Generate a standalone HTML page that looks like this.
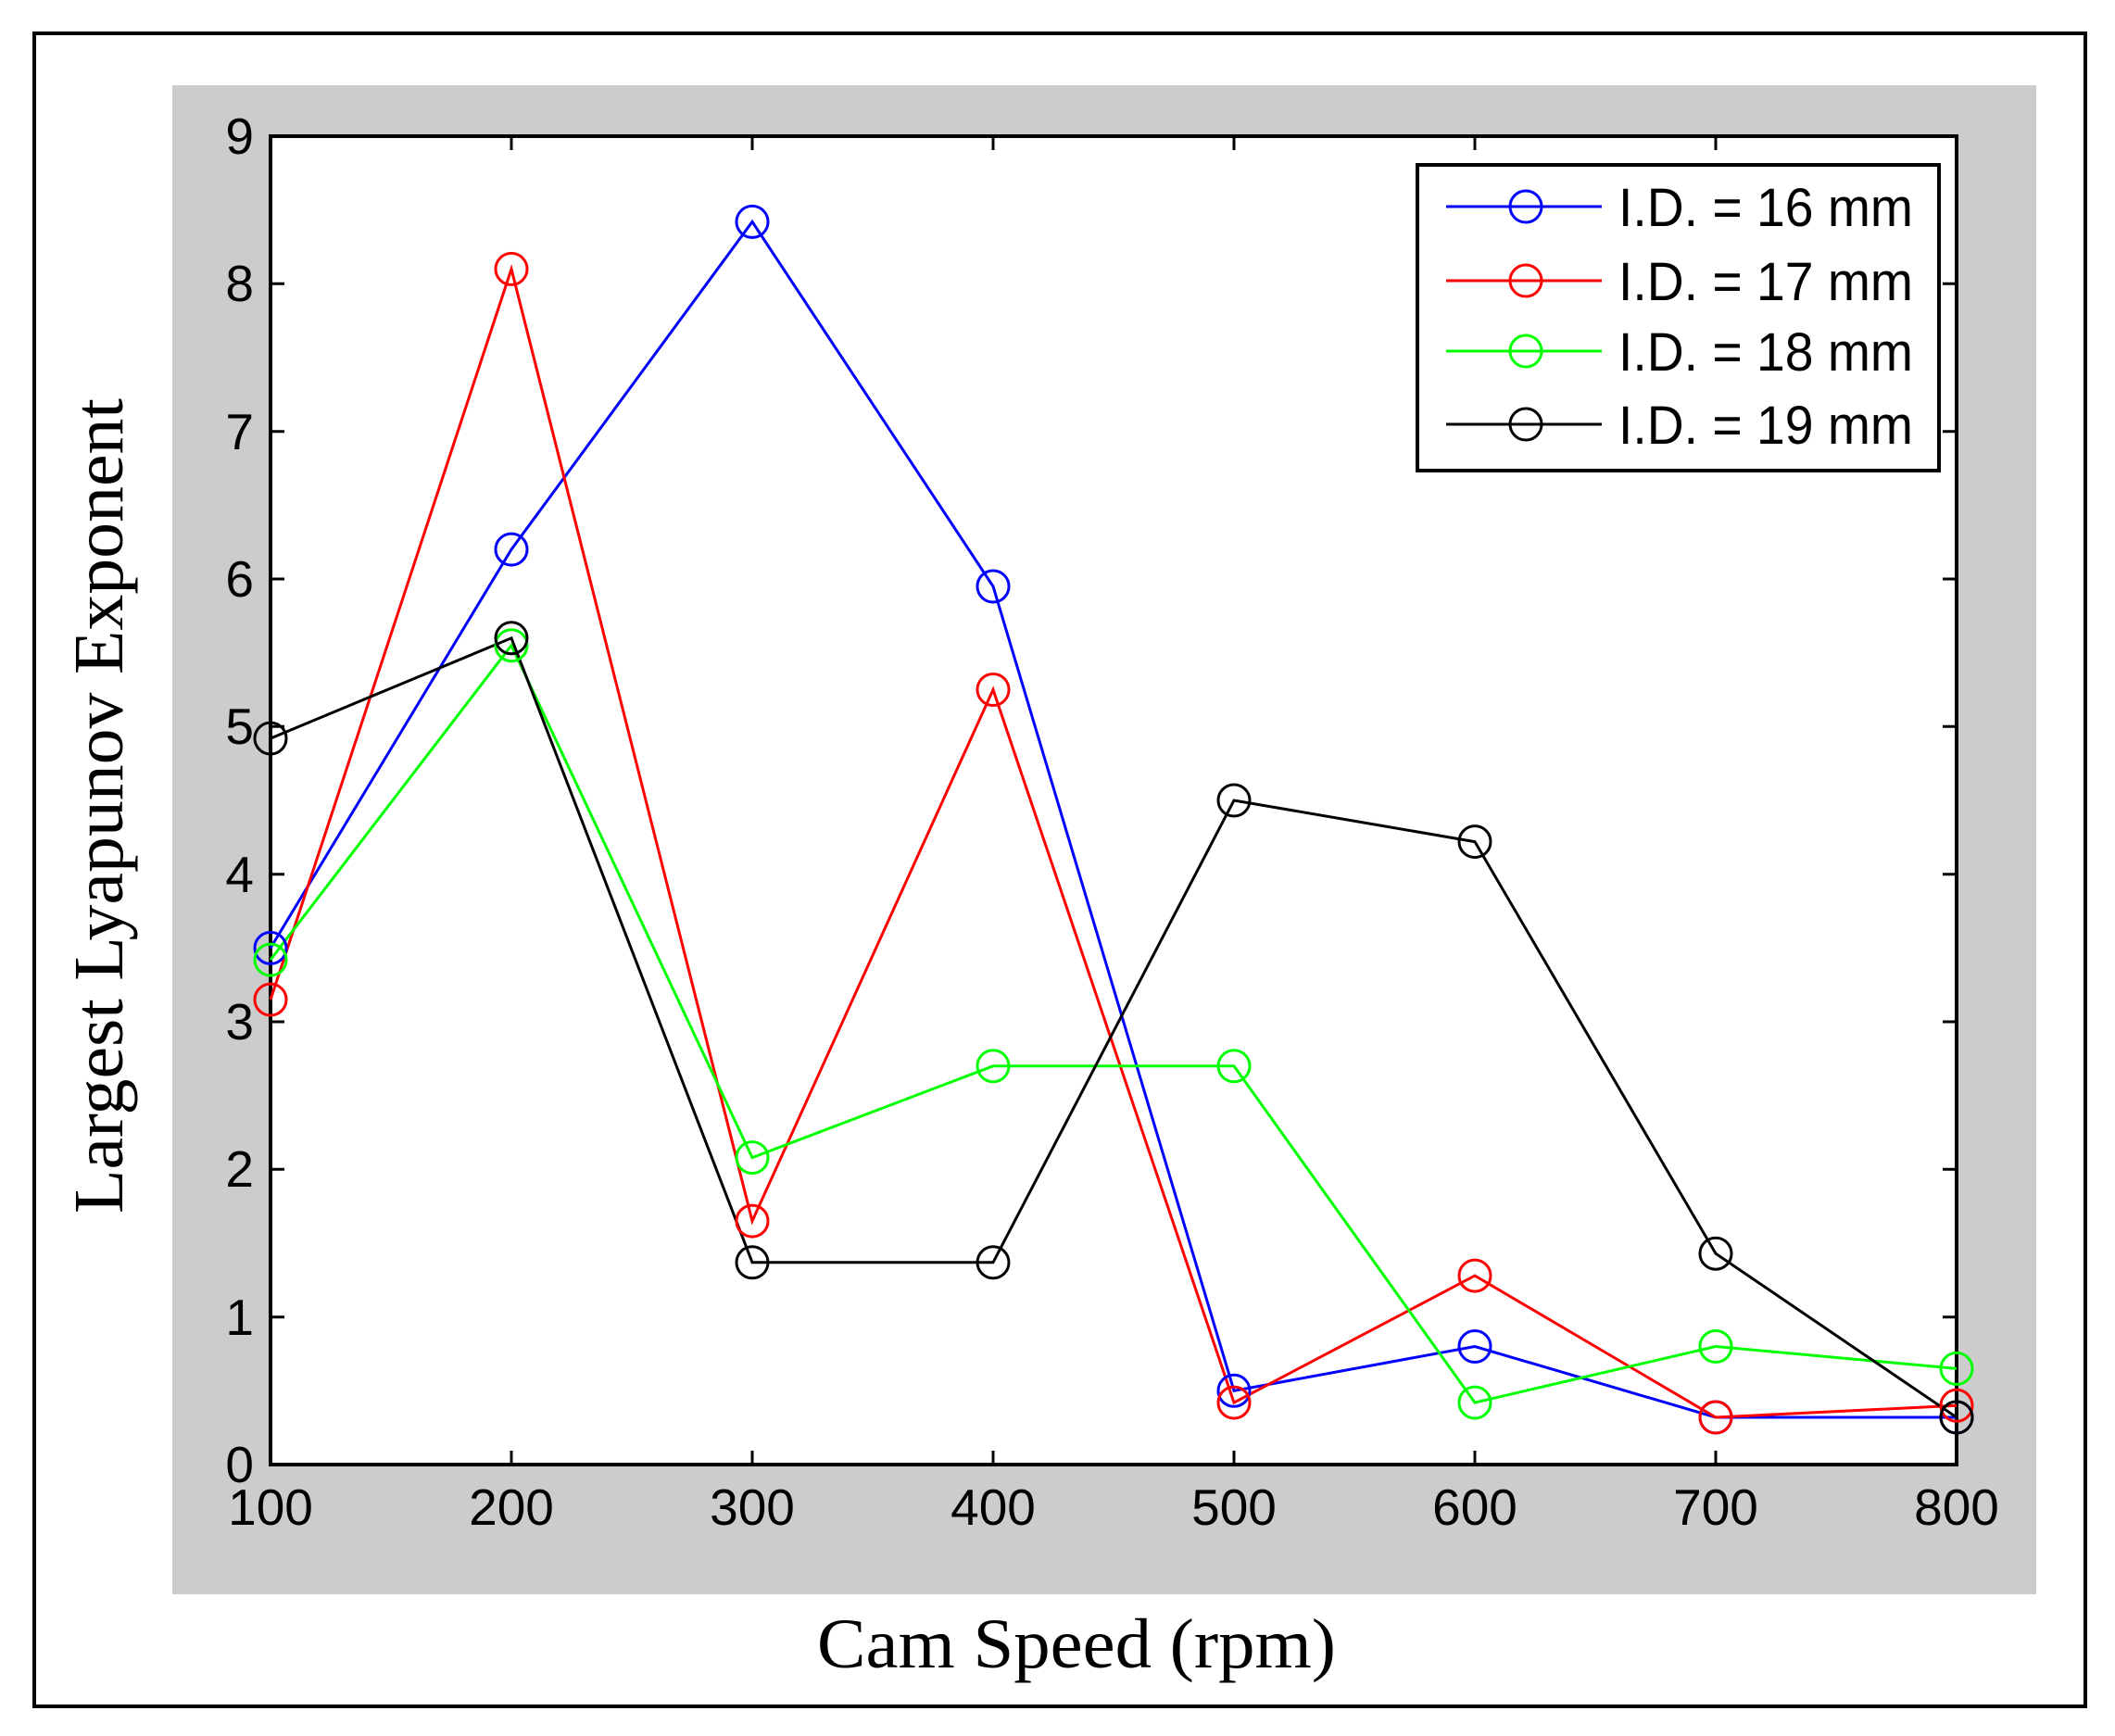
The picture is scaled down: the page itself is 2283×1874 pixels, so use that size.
<!DOCTYPE html>
<html><head><style>body{margin:0;background:#fff}svg{display:block}</style></head><body>
<svg width="2283" height="1874" xmlns="http://www.w3.org/2000/svg" font-family="Liberation Sans, Arial, sans-serif">
<rect x="0" y="0" width="2283" height="1874" fill="#fff"/>
<rect x="37" y="36" width="2214" height="1806" fill="none" stroke="#000" stroke-width="4"/>
<rect x="186" y="92" width="2012" height="1629" fill="#cccccc"/>
<rect x="292" y="147" width="1820" height="1434" fill="#fff" stroke="#000" stroke-width="4"/>
<g stroke="#000" stroke-width="3">
<path d="M552,1581v-15M812,1581v-15M1072,1581v-15M1332,1581v-15M1592,1581v-15M1852,1581v-15M552,147v15M812,147v15M1072,147v15M1332,147v15M1592,147v15M1852,147v15"/>
<path d="M292,1421.7h15M292,1262.3h15M292,1103h15M292,943.7h15M292,784.3h15M292,625h15M292,465.7h15M292,306.3h15M2112,1421.7h-15M2112,1262.3h-15M2112,1103h-15M2112,943.7h-15M2112,784.3h-15M2112,625h-15M2112,465.7h-15M2112,306.3h-15"/>
</g>
<g font-size="55" fill="#000" text-anchor="end">
<text x="274" y="166">9</text><text x="274" y="325">8</text><text x="274" y="485">7</text><text x="274" y="644">6</text><text x="274" y="803">5</text><text x="274" y="963">4</text><text x="274" y="1122">3</text><text x="274" y="1281">2</text><text x="274" y="1441">1</text><text x="274" y="1600">0</text>
</g>
<g font-size="55" fill="#000" text-anchor="middle">
<text x="292" y="1646">100</text><text x="552" y="1646">200</text><text x="812" y="1646">300</text><text x="1072" y="1646">400</text><text x="1332" y="1646">500</text><text x="1592" y="1646">600</text><text x="1852" y="1646">700</text><text x="2112" y="1646">800</text>
</g>
<text x="1162" y="1800" font-family="Liberation Serif, serif" font-size="76" text-anchor="middle" textLength="560" lengthAdjust="spacingAndGlyphs" fill="#000">Cam Speed (rpm)</text>
<text transform="translate(132,870) rotate(-90)" font-family="Liberation Serif, serif" font-size="76" text-anchor="middle" textLength="880" lengthAdjust="spacingAndGlyphs" fill="#000">Largest Lyapunov Exponent</text>
<g fill="none" stroke-width="3">
<polyline stroke="#0000ff" points="292,1023.4 552,593.1 812,239.4 1072,633.0 1332,1501.3 1592,1453.5 1852,1530.0 2112,1530.0"/>
<polyline stroke="#ff0000" points="292,1079.1 552,290.4 812,1318.1 1072,744.5 1332,1514.1 1592,1377.1 1852,1530.0 2112,1517.3"/>
<polyline stroke="#00ff00" points="292,1036.1 552,696.7 812,1249.6 1072,1150.8 1332,1150.8 1592,1514.1 1852,1453.5 2112,1477.4"/>
<polyline stroke="#000" points="292,797.1 552,688.8 812,1362.8 1072,1362.8 1332,864.0 1592,908.6 1852,1353.2 2112,1530.0"/>
<g stroke="#0000ff"><circle cx="292" cy="1023.4" r="17"/><circle cx="552" cy="593.1" r="17"/><circle cx="812" cy="239.4" r="17"/><circle cx="1072" cy="633.0" r="17"/><circle cx="1332" cy="1501.3" r="17"/><circle cx="1592" cy="1453.5" r="17"/><circle cx="1852" cy="1530.0" r="17"/><circle cx="2112" cy="1530.0" r="17"/></g>
<g stroke="#ff0000"><circle cx="292" cy="1079.1" r="17"/><circle cx="552" cy="290.4" r="17"/><circle cx="812" cy="1318.1" r="17"/><circle cx="1072" cy="744.5" r="17"/><circle cx="1332" cy="1514.1" r="17"/><circle cx="1592" cy="1377.1" r="17"/><circle cx="1852" cy="1530.0" r="17"/><circle cx="2112" cy="1517.3" r="17"/></g>
<g stroke="#00ff00"><circle cx="292" cy="1036.1" r="17"/><circle cx="552" cy="696.7" r="17"/><circle cx="812" cy="1249.6" r="17"/><circle cx="1072" cy="1150.8" r="17"/><circle cx="1332" cy="1150.8" r="17"/><circle cx="1592" cy="1514.1" r="17"/><circle cx="1852" cy="1453.5" r="17"/><circle cx="2112" cy="1477.4" r="17"/></g>
<g stroke="#000"><circle cx="292" cy="797.1" r="17"/><circle cx="552" cy="688.8" r="17"/><circle cx="812" cy="1362.8" r="17"/><circle cx="1072" cy="1362.8" r="17"/><circle cx="1332" cy="864.0" r="17"/><circle cx="1592" cy="908.6" r="17"/><circle cx="1852" cy="1353.2" r="17"/><circle cx="2112" cy="1530.0" r="17"/></g>
</g>
<rect x="1530" y="178" width="563" height="330" fill="#fff" stroke="#000" stroke-width="4"/>
<g fill="none" stroke-width="3">
<path d="M1561,223h168" stroke="#0000ff"/><circle cx="1647" cy="223" r="17" stroke="#0000ff"/>
<path d="M1561,303h168" stroke="#ff0000"/><circle cx="1647" cy="303" r="17" stroke="#ff0000"/>
<path d="M1561,379h168" stroke="#00ff00"/><circle cx="1647" cy="379" r="17" stroke="#00ff00"/>
<path d="M1561,458h168" stroke="#000"/><circle cx="1647" cy="458" r="17" stroke="#000"/>
</g>
<g font-size="58" fill="#000">
<text x="1747" y="244" textLength="318" lengthAdjust="spacingAndGlyphs">I.D. = 16 mm</text>
<text x="1747" y="324" textLength="318" lengthAdjust="spacingAndGlyphs">I.D. = 17 mm</text>
<text x="1747" y="400" textLength="318" lengthAdjust="spacingAndGlyphs">I.D. = 18 mm</text>
<text x="1747" y="479" textLength="318" lengthAdjust="spacingAndGlyphs">I.D. = 19 mm</text>
</g>
</svg>
</body></html>
